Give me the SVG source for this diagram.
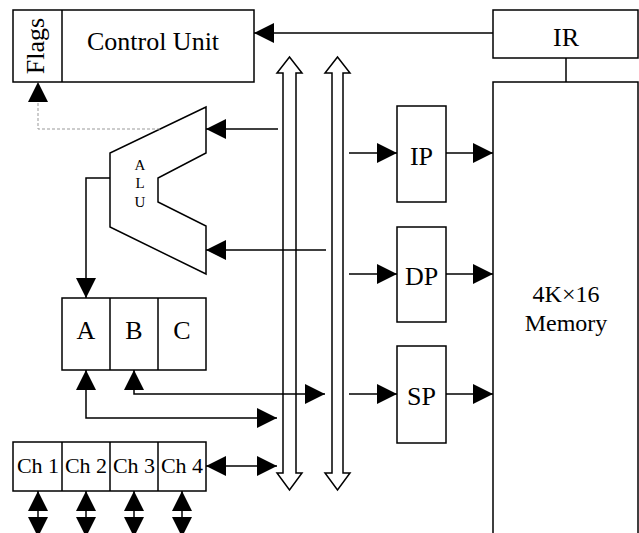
<svg xmlns="http://www.w3.org/2000/svg" width="639" height="533" viewBox="0 0 639 533">
<style>
.box{fill:#fff;stroke:#000;stroke-width:1.5}
.ln{fill:none;stroke:#000;stroke-width:1.5}
.t{font-family:"Liberation Serif","Times New Roman",serif;fill:#000;text-anchor:middle}
.big{font-size:26px}
.mem{font-size:24px}
.ch{font-size:22px}
.alu{font-size:15px}
.bus{fill:#fff;stroke:#000;stroke-width:1.5}
</style>
<defs>
<marker id="ah" markerUnits="userSpaceOnUse" markerWidth="20" markerHeight="20" refX="20" refY="10" orient="auto-start-reverse" viewBox="0 0 20 20">
<path d="M0,0 L20,10 L0,20 z" fill="#000"/>
</marker>
</defs>
<rect width="639" height="533" fill="#fff"/>

<g id="control-unit">
<rect class="box" x="13" y="10" width="241" height="72"/>
<line class="ln" x1="62" y1="10" x2="62" y2="82"/>
<text class="t big" x="153" y="50">Control Unit</text>
<text class="t big" transform="translate(44,46) rotate(-90)">Flags</text>
</g>
<g id="ir">
<rect class="box" x="493" y="10" width="145" height="48"/>
<text class="t big" x="566" y="46">IR</text>
</g>
<g id="memory">
<rect class="box" x="493" y="82" width="145" height="470"/>
<text class="t mem" x="566" y="302">4K×16</text>
<text class="t mem" x="566" y="331">Memory</text>
</g>
<g id="alu">
<polygon class="box" points="206,107 206,153 158,178 158,202 206,226 206,274 110,227 110,153"/>
<text class="t alu" x="140" y="170">A</text>
<text class="t alu" x="140" y="188">L</text>
<text class="t alu" x="140" y="207">U</text>
</g>
<g id="registers">
<rect class="box" x="62" y="298" width="144" height="72"/>
<line class="ln" x1="110" y1="298" x2="110" y2="370"/>
<line class="ln" x1="158" y1="298" x2="158" y2="370"/>
<text class="t big" x="86" y="339">A</text>
<text class="t big" x="134" y="339">B</text>
<text class="t big" x="182" y="339">C</text>
</g>
<g id="channels">
<rect class="box" x="13" y="442" width="193" height="49"/>
<line class="ln" x1="62" y1="442" x2="62" y2="491"/>
<line class="ln" x1="110" y1="442" x2="110" y2="491"/>
<line class="ln" x1="158" y1="442" x2="158" y2="491"/>
<text class="t ch" x="38" y="473">Ch 1</text>
<text class="t ch" x="86" y="473">Ch 2</text>
<text class="t ch" x="134" y="473">Ch 3</text>
<text class="t ch" x="182" y="473">Ch 4</text>
</g>
<g id="ip">
<rect class="box" x="397" y="106" width="49" height="96"/>
<text class="t big" x="421.5" y="165">IP</text>
</g>
<g id="dp">
<rect class="box" x="397" y="227" width="49" height="95"/>
<text class="t big" x="421.5" y="285">DP</text>
</g>
<g id="sp">
<rect class="box" x="397" y="346" width="49" height="97"/>
<text class="t big" x="421.5" y="405">SP</text>
</g>
<g id="bus1">
<polygon class="bus" points="289.5,57 302,73 296,73 296,473 302,473 289.5,490 277,473 283,473 283,73 277,73"/>
</g>
<g id="bus2">
<polygon class="bus" points="337.5,57 350,73 343,73 343,473 350,473 337.5,490 325,473 332,473 332,73 325,73"/>
</g>

<g id="connectors">
<line class="ln" x1="493" y1="33" x2="254" y2="33" marker-end="url(#ah)"/>
<line class="ln" x1="566" y1="58" x2="566" y2="82"/>
<line class="ln" x1="278" y1="129" x2="206" y2="129" marker-end="url(#ah)"/>
<line class="ln" x1="326" y1="250" x2="206" y2="250" marker-end="url(#ah)"/>
<polyline class="ln" points="110,178 86,178 86,298" marker-end="url(#ah)"/>
<polyline points="160,129 38,129 38,82" fill="none" stroke="#999" stroke-width="1" stroke-dasharray="3,2" marker-end="url(#ah)"/>
<polyline class="ln" points="277,418 86,418 86,370" marker-start="url(#ah)" marker-end="url(#ah)"/>
<polyline class="ln" points="325,394 134,394 134,370" marker-start="url(#ah)" marker-end="url(#ah)"/>
<line class="ln" x1="206" y1="466" x2="277" y2="466" marker-start="url(#ah)" marker-end="url(#ah)"/>
<line class="ln" x1="349" y1="153" x2="397" y2="153" marker-end="url(#ah)"/>
<line class="ln" x1="446" y1="153" x2="493" y2="153" marker-end="url(#ah)"/>
<line class="ln" x1="349" y1="274" x2="397" y2="274" marker-end="url(#ah)"/>
<line class="ln" x1="446" y1="274" x2="493" y2="274" marker-end="url(#ah)"/>
<line class="ln" x1="349" y1="394" x2="397" y2="394" marker-end="url(#ah)"/>
<line class="ln" x1="446" y1="394" x2="493" y2="394" marker-end="url(#ah)"/>
<line class="ln" x1="38" y1="491" x2="38" y2="537" marker-start="url(#ah)" marker-end="url(#ah)"/>
<line class="ln" x1="86" y1="491" x2="86" y2="537" marker-start="url(#ah)" marker-end="url(#ah)"/>
<line class="ln" x1="134" y1="491" x2="134" y2="537" marker-start="url(#ah)" marker-end="url(#ah)"/>
<line class="ln" x1="182" y1="491" x2="182" y2="537" marker-start="url(#ah)" marker-end="url(#ah)"/>
</g>
</svg>
